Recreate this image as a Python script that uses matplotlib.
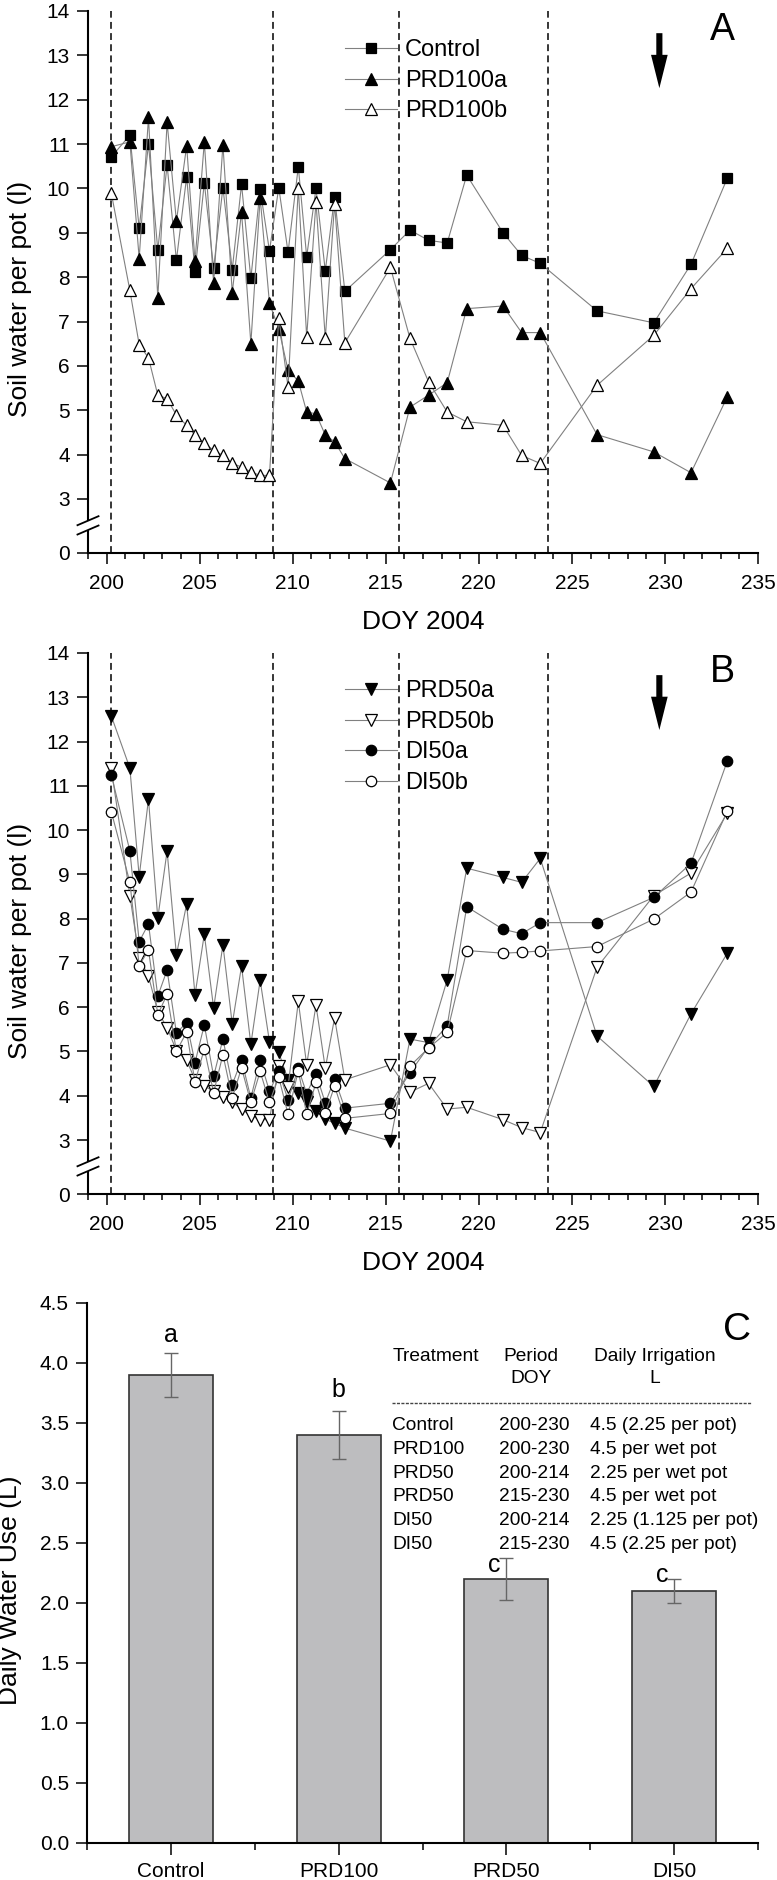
import numpy as np
import matplotlib
matplotlib.use('Agg')
import matplotlib.pyplot as plt
from matplotlib.patches import FancyArrowPatch, Rectangle
from matplotlib.ticker import MultipleLocator, FixedLocator, NullLocator, FuncFormatter, FormatStrFormatter

plt.rcParams['font.family'] = ['Liberation Sans', 'DejaVu Sans']


# ============================================================
# Data
# ============================================================

# measurement days, shared by panels A and B
doy = [200.25, 201.25, 201.75, 202.25, 202.75, 203.25, 203.75, 204.3, 204.75,
       205.25, 205.75, 206.25, 206.75, 207.25, 207.75, 208.25, 208.75, 209.25,
       209.75, 210.3, 210.75, 211.25, 211.75, 212.25, 212.8, 215.25, 216.3,
       217.3, 218.3, 219.35, 221.3, 222.3, 223.3, 226.35, 229.4, 231.4, 233.35]

# panel A
control = [10.71, 11.20, 9.10, 11.00, 8.61, 10.53, 8.38, 10.26, 8.12, 10.13,
           8.20, 10.02, 8.17, 10.09, 7.97, 9.98, 8.59, 10.02, 8.56, 10.49,
           8.46, 10.00, 8.14, 9.81, 7.68, 8.62, 9.06, 8.83, 8.77, 10.30,
           9.00, 8.49, 8.31, 7.24, 6.97, 8.29, 10.23]
prd100a = [10.94, 11.05, 8.42, 11.60, 7.53, 11.49, 9.26, 10.96, 8.36, 11.05,
           7.86, 10.99, 7.65, 9.47, 6.50, 9.79, 7.41, 6.84, 5.90, 5.66,
           4.96, 4.92, 4.44, 4.29, 3.91, 3.36, 5.07, 5.34, 5.62, 7.29,
           7.35, 6.75, 6.75, 4.45, 4.06, 3.59, 5.30]
prd100b = [9.90, 7.70, 6.48, 6.18, 5.34, 5.26, 4.89, 4.66, 4.44, 4.25,
           4.10, 3.98, 3.80, 3.72, 3.61, 3.53, 3.53, 7.09, 5.52, 10.02,
           6.65, 9.70, 6.62, 9.66, 6.52, 8.22, 6.62, 5.64, 4.96, 4.74,
           4.66, 3.98, 3.80, 5.56, 6.69, 7.74, 8.65]

# panel B
prd50a = [12.58, 11.40, 8.95, 10.70, 8.01, 9.53, 7.18, 8.33, 6.28, 7.65,
          5.98, 7.41, 5.62, 6.93, 5.16, 6.61, 5.22, 4.98, 4.36, 4.07,
          3.87, 3.66, 3.47, 3.38, 3.27, 2.94, 5.28, 5.20, 6.62, 9.14,
          8.93, 8.82, 9.36, 5.35, 4.21, 5.85, 7.22]
prd50b = [11.40, 8.52, 7.12, 6.70, 5.90, 5.54, 5.02, 4.80, 4.36, 4.22,
          4.10, 3.97, 3.86, 3.70, 3.55, 3.46, 3.46, 4.68, 4.20, 6.13,
          4.70, 6.05, 4.62, 5.76, 4.36, 4.70, 4.08, 4.28, 3.70, 3.74,
          3.46, 3.28, 3.17, 6.90, 8.52, 9.03, 10.38]
di50a = [11.25, 9.53, 7.48, 7.88, 6.25, 6.84, 5.42, 5.65, 4.75, 5.60,
         4.44, 5.28, 4.25, 4.81, 3.95, 4.81, 4.10, 4.55, 3.91, 4.62,
         4.05, 4.50, 3.84, 4.38, 3.72, 3.83, 4.52, 5.11, 5.58, 8.27,
         7.76, 7.66, 7.91, 7.91, 8.48, 9.25, 11.56]
di50b = [10.42, 8.82, 6.94, 7.29, 5.83, 6.29, 5.00, 5.44, 4.31, 5.06,
         4.07, 4.93, 3.95, 4.63, 3.85, 4.55, 3.85, 4.42, 3.58, 4.57,
         3.58, 4.30, 3.60, 4.22, 3.49, 3.60, 4.67, 5.08, 5.43, 7.28,
         7.22, 7.24, 7.27, 7.37, 7.99, 8.60, 10.43]

# dashed period boundaries and arrow day
period_lines = [200.25, 208.95, 215.7, 223.7]
arrow_doy = 229.7

# panel C
treatments = ['Control', 'PRD100', 'PRD50', 'DI50']
water_use = [3.9, 3.4, 2.2, 2.1]
water_err = [0.18, 0.2, 0.175, 0.1]
letters = ['a', 'b', 'c', 'c']

table_header = ['Treatment', 'Period', 'Daily Irrigation']
table_header2 = ['', 'DOY', 'L']
table_rows = [
    ('Control', '200-230', '4.5 (2.25 per pot)'),
    ('PRD100', '200-230', '4.5 per wet pot'),
    ('PRD50', '200-214', '2.25 per wet pot'),
    ('PRD50', '215-230', '4.5 per wet pot'),
    ('DI50', '200-214', '2.25 (1.125 per pot)'),
    ('DI50', '215-230', '4.5 (2.25 per pot)'),
]


# ============================================================
# Broken y axis (0..3 compressed)
# ============================================================

K = 1.219 / 3.0


def fwd(y):
    y = np.asarray(y, dtype=float)
    return np.where(y >= 3, y, 3 - (3 - y) * K)


def inv(d):
    d = np.asarray(d, dtype=float)
    return np.where(d >= 3, d, 3 - (3 - d) / K)


W, H = 777, 1880
fig = plt.figure(figsize=(W / 100, H / 100), dpi=100)
axA = fig.add_axes([88 / W, 1 - 553 / H, 670 / W, 542 / H])
axB = fig.add_axes([88 / W, 1 - 1194 / H, 670 / W, 541 / H])
axC = fig.add_axes([87 / W, 1 - 1843 / H, 671 / W, 540 / H])

LINE = dict(color='#808080', lw=0.8, mec='black', mew=0.9)


def style_common(ax):
    for s in ['top', 'right']:
        ax.spines[s].set_visible(False)
    for s in ['left', 'bottom']:
        ax.spines[s].set_linewidth(1.5)
    ax.tick_params(axis='both', which='major', direction='out', length=8,
                   width=1.1, labelsize=15, pad=5)
    ax.tick_params(axis='x', which='major', pad=7)
    ax.tick_params(axis='x', which='minor', direction='out', length=4.5, width=1.1)
    ax.tick_params(axis='y', which='minor', left=False)


def style_doy(ax, letter):
    ax.set_yscale('function', functions=(fwd, inv))
    ax.set_ylim(0, 14)
    ax.set_xlim(199, 235)
    ax.yaxis.set_major_locator(FixedLocator([0] + list(range(3, 15))))
    ax.yaxis.set_minor_locator(NullLocator())
    ax.yaxis.set_major_formatter(FuncFormatter(lambda v, p: '%d' % round(v)))
    ax.xaxis.set_major_locator(MultipleLocator(5))
    ax.xaxis.set_minor_locator(MultipleLocator(1))
    style_common(ax)

    for d in period_lines:
        ax.axvline(d, color='black', lw=1.1, dashes=(4.5, 2.8), zorder=1)

    arr = FancyArrowPatch((arrow_doy, 13.5), (arrow_doy, 12.26),
                          arrowstyle='simple,head_length=1.2,head_width=0.6,tail_width=0.22',
                          mutation_scale=20, color='black', lw=0,
                          shrinkA=0, shrinkB=0, zorder=5)
    ax.add_patch(arr)
    ax.text(233.1, 13.57, letter, fontsize=27, ha='center', va='center')

    ax.set_xlabel('DOY 2004', fontsize=19)
    ax.xaxis.set_label_coords(0.5, -0.105)
    ax.set_ylabel('Soil water per pot (l)', fontsize=19)
    ax.yaxis.set_label_coords(-0.084, 0.468)

    # axis break marks
    c1, c2 = 0.0596, 0.0424
    ax.add_patch(Rectangle((-0.006, c2), 0.012, c1 - c2, transform=ax.transAxes,
                           facecolor='white', edgecolor='none', clip_on=False, zorder=6))
    for c in (c1, c2):
        ax.plot([-0.0157, 0.0157], [c - 0.0083, c + 0.0083], transform=ax.transAxes,
                color='black', lw=1.3, clip_on=False, zorder=7)


LEG = dict(loc='upper left', frameon=False, fontsize=17, handlelength=2.2,
           handletextpad=0.35, labelspacing=0.36, borderpad=0, borderaxespad=0)

# ============================================================
# Panel A
# ============================================================

axA.plot(doy, control, marker='s', ms=7, mfc='black', label='Control', **LINE)
axA.plot(doy, prd100a, marker='^', ms=8.5, mfc='black', label='PRD100a', **LINE)
axA.plot(doy, prd100b, marker='^', ms=8.5, mfc='white', label='PRD100b', **LINE)
style_doy(axA, 'A')
axA.legend(bbox_to_anchor=(0.3836, 0.9476), **LEG)


# ============================================================
# Panel B
# ============================================================

axB.plot(doy, prd50a, marker='v', ms=8.5, mfc='black', label='PRD50a', **LINE)
axB.plot(doy, prd50b, marker='v', ms=8.5, mfc='white', label='PRD50b', **LINE)
axB.plot(doy, di50a, marker='o', ms=7.5, mfc='black', label='DI50a', **LINE)
axB.plot(doy, di50b, marker='o', ms=7.5, mfc='white', label='DI50b', **LINE)
style_doy(axB, 'B')
axB.legend(bbox_to_anchor=(0.3836, 0.9495), **LEG)


# ============================================================
# Panel C
# ============================================================

pos = np.arange(len(treatments))
axC.bar(pos, water_use, width=0.5, color='#bdbdbf', edgecolor='#333333',
        linewidth=1.2, zorder=2)
axC.errorbar(pos, water_use, yerr=water_err, fmt='none', ecolor='#666666',
             elinewidth=1.0, capsize=5, capthick=1.0, zorder=3)
axC.set_xlim(-0.5, 3.5)
axC.set_ylim(0, 4.5)
axC.yaxis.set_major_locator(MultipleLocator(0.5))
axC.yaxis.set_major_formatter(FormatStrFormatter('%.1f'))
axC.set_xticks(pos)
axC.set_xticklabels(treatments)
axC.xaxis.set_minor_locator(FixedLocator(np.arange(-0.5, 4, 1)))
style_common(axC)
axC.tick_params(axis='x', which='major', length=8.5, pad=5)
axC.tick_params(axis='x', which='minor', length=5)
axC.set_ylabel('Daily Water Use (L)', fontsize=19)
axC.yaxis.set_label_coords(-0.097, 0.4685)

# significance letters
letter_dx = [0, 0, -0.07, -0.07]
letter_dy = [0.153, 0.175, -0.058, 0.033]
for i, lt in enumerate(letters):
    axC.text(pos[i] + letter_dx[i], water_use[i] + water_err[i] + letter_dy[i], lt,
             fontsize=18, ha='center', va='center')

axC.text(3.375, 4.275, 'C', fontsize=28, ha='center', va='center')

# treatment table
col_x = [1.321, 1.958, 2.5]
head_x = [1.321, 2.149, 2.887]
TFS = 13.8
axC.text(head_x[0], 4.058, table_header[0], fontsize=TFS, ha='left', va='center')
for j in (1, 2):
    axC.text(head_x[j], 4.058, table_header[j], fontsize=TFS, ha='center', va='center')
    axC.text(head_x[j], 3.867, table_header2[j], fontsize=TFS, ha='center', va='center')
axC.plot([1.321, 3.464], [3.667, 3.667], color='#444444', lw=1.0, dashes=(2.2, 1.0))
for i, row in enumerate(table_rows):
    y = 3.475 - 0.1967 * i
    for j, cell in enumerate(row):
        axC.text(col_x[j], y, cell, fontsize=TFS, ha='left', va='center')

fig.savefig('out.png', dpi=100)
